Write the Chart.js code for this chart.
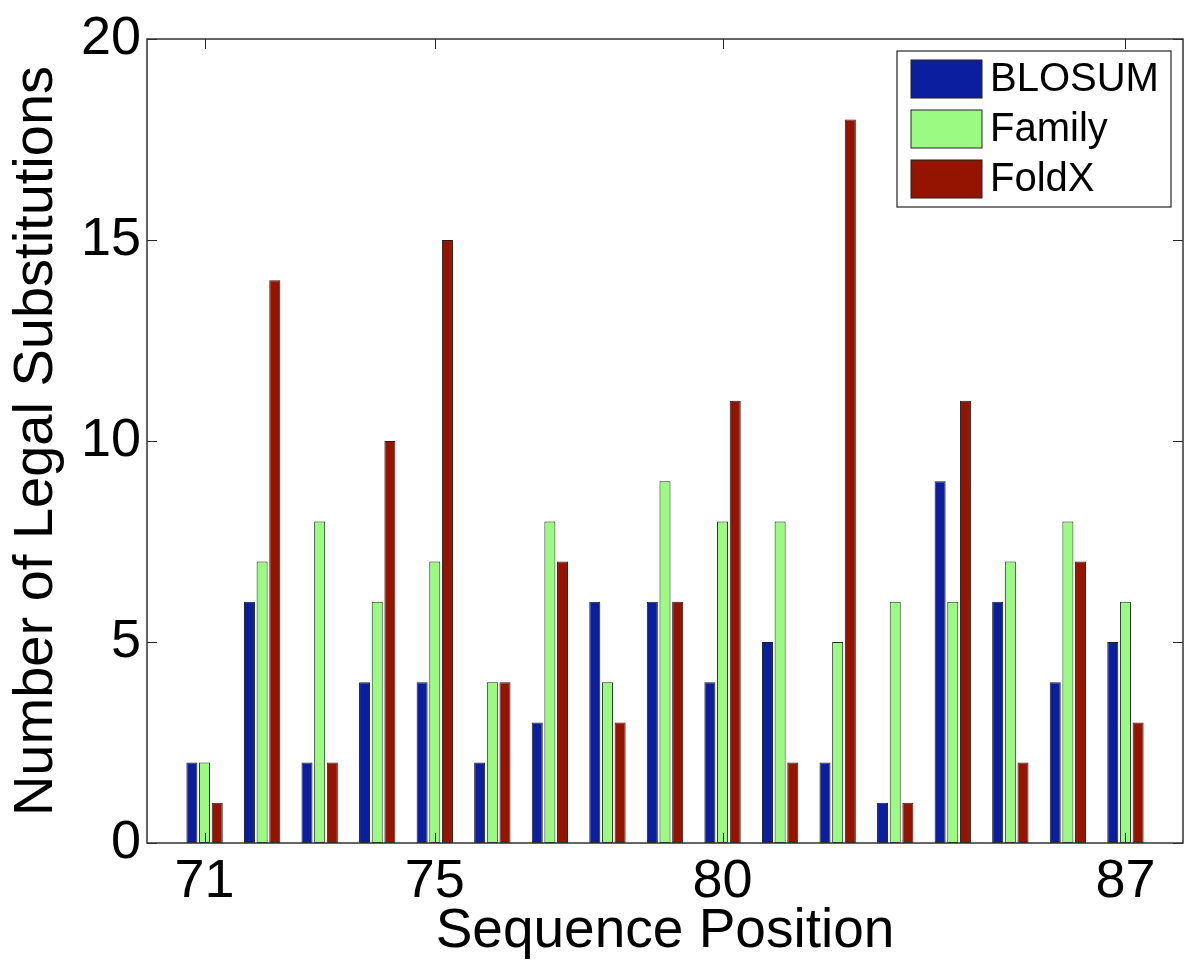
<!DOCTYPE html>
<html>
<head>
<meta charset="utf-8">
<script src="https://cdn.jsdelivr.net/npm/chart.js@4"></script>
<style>
  body { margin: 0; background: #fff; }
  #wrap { width: 1200px; height: 968px; }
</style>
</head>
<body>
<div id="wrap"><canvas id="substitutionsChart" width="1200" height="968"></canvas></div>
<script>
// Sequence positions and number of legal substitutions per method
const positions = [71, 72, 73, 74, 75, 76, 77, 78, 79, 80, 81, 82, 83, 84, 85, 86, 87];
const blosum = [2, 6, 2, 4, 4, 2, 3, 6, 6, 4, 5, 2, 1, 9, 6, 4, 5];
const family = [2, 7, 8, 6, 7, 4, 8, 4, 9, 8, 8, 5, 6, 6, 7, 8, 6];
const foldx = [1, 14, 2, 10, 15, 4, 7, 3, 6, 11, 2, 18, 1, 11, 2, 7, 3];
const xTickLabels = [71, 75, 80, 87];
const yTickLabels = [0, 5, 10, 15, 20];
const seriesNames = ['BLOSUM', 'Family', 'FoldX'];

const FONT = "'Liberation Sans', Arial, Helvetica, sans-serif";

function toPoints(values) {
    return positions.map((p, i) => ({ x: p, y: values[i] }));
}

// box around the plot with inward ticks on all four sides, matlab style
const frameTicks = {
    id: 'frameTicks',
    afterDatasetsDraw(chart) {
        const { ctx, chartArea: a, scales } = chart;
        const len = 10;
        ctx.save();
        ctx.strokeStyle = '#262626';
        ctx.lineWidth = 1;
        ctx.beginPath();
        xTickLabels.forEach(v => {
            const px = Math.round(scales.x.getPixelForValue(v)) + 0.5;
            ctx.moveTo(px, a.bottom); ctx.lineTo(px, a.bottom - len);
            ctx.moveTo(px, a.top); ctx.lineTo(px, a.top + len);
        });
        yTickLabels.forEach(v => {
            const py = Math.round(scales.y.getPixelForValue(v)) + 0.5;
            ctx.moveTo(a.left, py); ctx.lineTo(a.left + len, py);
            ctx.moveTo(a.right, py); ctx.lineTo(a.right - len, py);
        });
        ctx.stroke();
        ctx.lineWidth = 1.5;
        ctx.strokeStyle = '#333';
        ctx.strokeRect(a.left, a.top, a.right - a.left, a.bottom - a.top);
        ctx.restore();
    }
};

// legend box in the upper right corner of the axes
const boxLegend = {
    id: 'boxLegend',
    afterDraw(chart) {
        const { ctx, chartArea: a } = chart;
        const w = 274, h = 156;
        const x0 = a.right - 12 - w;
        const y0 = a.top + 12;
        ctx.save();
        ctx.fillStyle = '#fff';
        ctx.fillRect(x0, y0, w, h);
        ctx.strokeStyle = '#222';
        ctx.lineWidth = 1.2;
        ctx.strokeRect(x0, y0, w, h);
        ctx.font = '40px ' + FONT;
        ctx.textBaseline = 'middle';
        ctx.textAlign = 'left';
        chart.data.datasets.forEach((ds, i) => {
            const sy = y0 + 9 + i * 50;
            ctx.fillStyle = ds.backgroundColor;
            ctx.fillRect(x0 + 14, sy, 71, 38);
            ctx.strokeStyle = '#222';
            ctx.lineWidth = 1;
            ctx.strokeRect(x0 + 14, sy, 71, 38);
            ctx.fillStyle = '#000';
            ctx.fillText(ds.label, x0 + 93, sy + 20);
        });
        ctx.restore();
    }
};

const ctx = document.getElementById('substitutionsChart').getContext('2d');
new Chart(ctx, {
    type: 'bar',
    data: {
        datasets: [
            {
                label: seriesNames[0],
                data: toPoints(blosum),
                backgroundColor: '#0a1e9e',
                borderColor: '#1a1a2a',
                borderWidth: 1,
                borderSkipped: false
            },
            {
                label: seriesNames[1],
                data: toPoints(family),
                backgroundColor: '#9afa82',
                borderColor: '#1a2a1a',
                borderWidth: 1,
                borderSkipped: false
            },
            {
                label: seriesNames[2],
                data: toPoints(foldx),
                backgroundColor: '#941400',
                borderColor: '#2a1a1a',
                borderWidth: 1,
                borderSkipped: false
            }
        ]
    },
    options: {
        responsive: false,
        animation: false,
        categoryPercentage: 0.66,
        barPercentage: 0.87,
        layout: { padding: { top: 39, right: 17, left: 0, bottom: 0 } },
        plugins: {
            legend: { display: false },
            tooltip: { enabled: false }
        },
        scales: {
            x: {
                type: 'linear',
                min: 70,
                max: 88,
                offset: false,
                afterBuildTicks: scale => {
                    scale.ticks = xTickLabels.map(v => ({ value: v }));
                },
                afterFit: scale => { scale.height = 125; },
                grid: { display: false, drawTicks: false, offset: false },
                border: { display: false },
                ticks: {
                    color: '#000',
                    padding: 7,
                    maxRotation: 0,
                    autoSkip: false,
                    font: { family: FONT, size: 54 }
                },
                title: {
                    display: true,
                    text: 'Sequence Position',
                    color: '#000',
                    padding: { top: 0, bottom: 3 },
                    font: { family: FONT, size: 55 }
                }
            },
            y: {
                min: 0,
                max: 20,
                afterBuildTicks: scale => {
                    scale.ticks = yTickLabels.map(v => ({ value: v }));
                },
                afterFit: scale => { scale.width = 147; },
                grid: { display: false, drawTicks: false },
                border: { display: false },
                ticks: {
                    color: '#000',
                    padding: 6,
                    font: { family: FONT, size: 54 }
                },
                title: {
                    display: true,
                    text: 'Number of Legal Substitutions',
                    color: '#000',
                    padding: { top: 3, bottom: 0 },
                    font: { family: FONT, size: 56 }
                }
            }
        }
    },
    plugins: [frameTicks, boxLegend]
});
</script>
</body>
</html>
